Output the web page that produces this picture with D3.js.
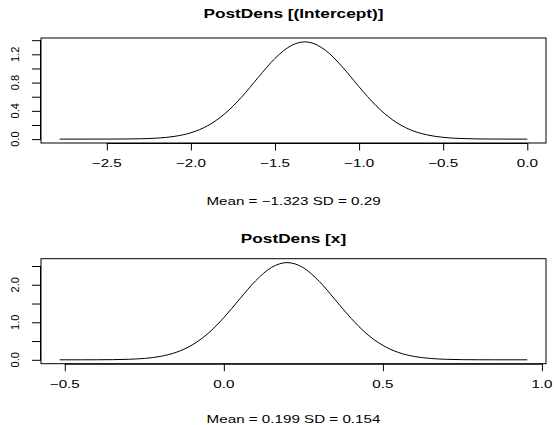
<!DOCTYPE html>
<html>
<head>
<meta charset="utf-8">
<script src="https://cdn.jsdelivr.net/npm/d3@7"></script>
<style>
  body { margin: 0; background: #fff; }
  text { font-family: "Liberation Sans", Arial, Helvetica, sans-serif; fill: #000; }
</style>
</head>
<body>
<script>
// values: posterior density of (Intercept)
var interceptX = [-2.78, -2.6, -2.5, -2.4, -2.3, -2.2, -2.1, -2.0, -1.9, -1.8, -1.7, -1.6, -1.5, -1.4,
                  -1.323, -1.3, -1.2, -1.1, -1.0, -0.9, -0.8, -0.7, -0.6, -0.5, -0.4, -0.3, -0.2, -0.1, 0.0];
var interceptY = [0.0, 0.0001, 0.0004, 0.0014, 0.0047, 0.014, 0.038, 0.090, 0.190, 0.356, 0.591, 0.872, 1.142, 1.328,
                  1.376, 1.372, 1.257, 1.023, 0.740, 0.475, 0.271, 0.137, 0.062, 0.025, 0.009, 0.003, 0.001, 0.0002, 0.0];
// posterior density of x
var slopeX = [-0.516, -0.45, -0.4, -0.35, -0.3, -0.25, -0.2, -0.15, -0.1, -0.05, 0.0, 0.05, 0.1, 0.15,
              0.199, 0.25, 0.3, 0.35, 0.4, 0.45, 0.5, 0.55, 0.6, 0.65, 0.7, 0.75, 0.8, 0.85, 0.954];
var slopeY = [0.0, 0.0003, 0.0013, 0.0045, 0.0136, 0.037, 0.090, 0.199, 0.393, 0.701, 1.124, 1.622, 2.107, 2.463,
              2.591, 2.453, 2.090, 1.602, 1.106, 0.687, 0.384, 0.193, 0.087, 0.036, 0.013, 0.0043, 0.0013, 0.0003, 0.0];

var titles = ["PostDens [(Intercept)]", "PostDens [x]"];
var subtitles = ["Mean = \u22121.323 SD = 0.29", "Mean = 0.199 SD = 0.154"];

var interceptXTicks = [-2.5, -2.0, -1.5, -1.0, -0.5, 0.0];
var interceptXLabels = ["\u22122.5", "\u22122.0", "\u22121.5", "\u22121.0", "\u22120.5", "0.0"];
var interceptYTicks = [0, 0.2, 0.4, 0.6, 0.8, 1.0, 1.2, 1.4];
var interceptYLabels = ["0.0", "", "0.4", "", "0.8", "", "1.2", ""];

var slopeXTicks = [-0.5, 0.0, 0.5, 1.0];
var slopeXLabels = ["\u22120.5", "0.0", "0.5", "1.0"];
var slopeYTicks = [0, 0.5, 1.0, 1.5, 2.0, 2.5];
var slopeYLabels = ["0.0", "", "1.0", "", "2.0", ""];

var width = 554;
var height = 425;
// the picture looks stretched sideways, so horizontal text is widened
var stretch = 1.38;

var svg = d3.select("body").append("svg")
    .attr("width", width)
    .attr("height", height);

var panels = [
    { xs: interceptX, ys: interceptY, xt: interceptXTicks, xl: interceptXLabels,
      yt: interceptYTicks, yl: interceptYLabels, top: 38, bottom: 143,
      titleY: 18.3, tickY: 166.5, subY: 205 },
    { xs: slopeX, ys: slopeY, xt: slopeXTicks, xl: slopeXLabels,
      yt: slopeYTicks, yl: slopeYLabels, top: 258.7, bottom: 363.7,
      titleY: 243.3, tickY: 388, subY: 423 }
];

var left = 41;
var right = 546;

// R style axis range: data range padded 4% each side
function pad(ext){
    var d = (ext[1] - ext[0]) * 0.04;
    return [ext[0] - d, ext[1] + d];
}

panels.forEach(function(p, i){
    var x = d3.scaleLinear().domain(pad(d3.extent(p.xs))).range([left, right]);
    var y = d3.scaleLinear().domain(pad([0, d3.max(p.ys)])).range([p.bottom, p.top]);
    var g = svg.append("g");

    g.append("rect")
        .attr("x", left)
        .attr("y", p.top)
        .attr("width", right - left)
        .attr("height", p.bottom - p.top)
        .style("fill", "none")
        .style("stroke", "#000")
        .style("stroke-width", 1);

    var line = d3.line()
        .x(function(d){ return x(d[0]); })
        .y(function(d){ return y(d[1]); })
        .curve(d3.curveMonotoneX);

    g.append("path")
        .datum(d3.zip(p.xs, p.ys))
        .attr("d", line)
        .style("fill", "none")
        .style("stroke", "#000")
        .style("stroke-width", 1);

    // x axis
    var xAxis = d3.axisBottom(x)
        .tickValues(p.xt)
        .tickSize(7.5)
        .tickFormat("");
    var xg = g.append("g")
        .attr("transform", "translate(0," + p.bottom + ")")
        .call(xAxis);
    xg.select(".domain")
        .attr("d", "M" + x(p.xt[0]) + ",0.5H" + x(p.xt[p.xt.length - 1]));
    xg.selectAll("line").style("stroke", "#000");
    g.selectAll("text.xlab")
        .data(p.xt)
        .enter().append("text")
            .classed("xlab", true)
            .attr("transform", function(d){
                return "translate(" + x(d) + "," + p.tickY + ") scale(" + stretch + ",1)";
            })
            .style("text-anchor", "middle")
            .style("font-size", "11px")
            .text(function(d, j){ return p.xl[j]; });

    // y axis
    var yAxis = d3.axisLeft(y)
        .tickValues(p.yt)
        .tickSize(9)
        .tickFormat("");
    var yg = g.append("g")
        .attr("transform", "translate(" + left + ",0)")
        .call(yAxis);
    yg.select(".domain")
        .attr("d", "M-0.5," + y(p.yt[0]) + "V" + y(p.yt[p.yt.length - 1]));
    yg.selectAll("line").style("stroke", "#000");
    g.selectAll("text.ylab")
        .data(p.yt)
        .enter().append("text")
            .classed("ylab", true)
            .attr("transform", function(d){
                return "translate(18.5," + y(d) + ") rotate(-90)";
            })
            .style("text-anchor", "middle")
            .style("font-size", "11px")
            .text(function(d, j){ return p.yl[j]; });

    // title and summary line
    var mid = (left + right) / 2;
    g.append("text")
        .attr("transform", "translate(" + mid + "," + p.titleY + ") scale(" + stretch + ",1)")
        .style("text-anchor", "middle")
        .style("font-size", "12.5px")
        .style("font-weight", "bold")
        .text(titles[i]);

    g.append("text")
        .attr("transform", "translate(" + mid + "," + p.subY + ") scale(" + stretch + ",1)")
        .style("text-anchor", "middle")
        .style("font-size", "11px")
        .text(subtitles[i]);
});
</script>
</body>
</html>
